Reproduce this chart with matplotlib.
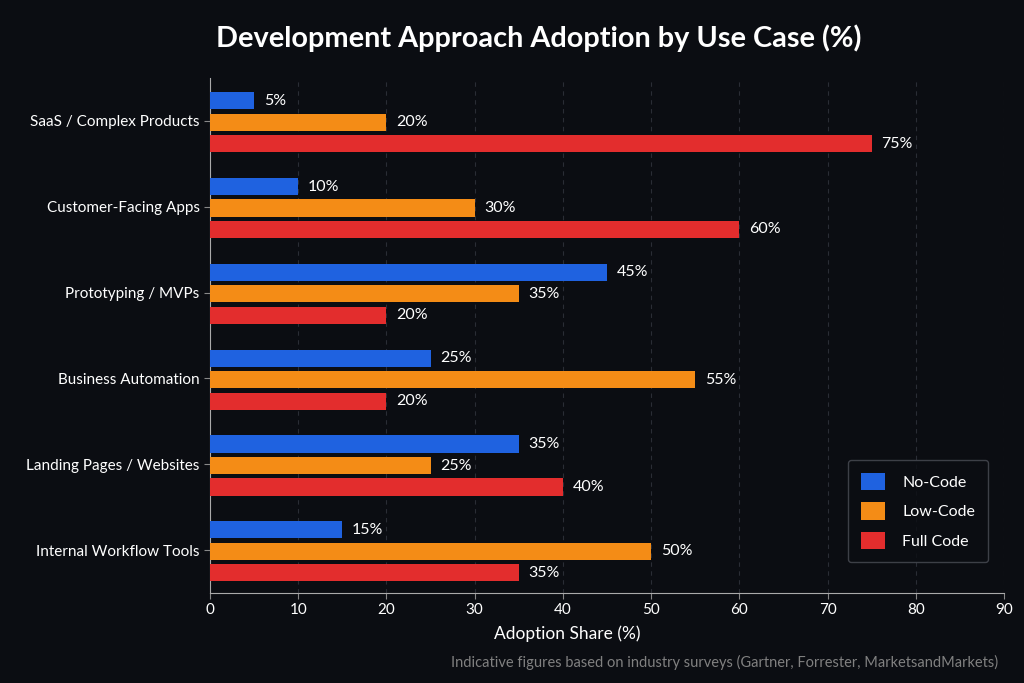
import matplotlib
matplotlib.use("Agg")
import matplotlib.pyplot as plt
import numpy as np

plt.rcParams['font.family'] = ['Lato', 'DejaVu Sans']

categories = ["SaaS / Complex Products", "Customer-Facing Apps", "Prototyping / MVPs",
              "Business Automation", "Landing Pages / Websites", "Internal Workflow Tools"]
no_code = [5, 10, 45, 25, 35, 15]
low_code = [20, 30, 35, 55, 25, 50]
full_code = [75, 60, 20, 20, 40, 35]
series_names = ["No-Code", "Low-Code", "Full Code"]
colors = ["#1f62e0", "#f48c16", "#e32d2d"]

bg = "#0b0d12"
fig = plt.figure(figsize=(10.24, 6.83), dpi=100, facecolor=bg)
ax = fig.add_axes([210/1024, 1-593/683, (1004-210)/1024, (593-78)/683])
ax.set_facecolor(bg)

y = np.arange(len(categories))
h = 0.2
off = 0.25
for i, (vals, name, c) in enumerate(zip([no_code, low_code, full_code], series_names, colors)):
    pos = y + (i - 1) * off + 0.015
    ax.barh(pos, vals, height=h, color=c, label=name, zorder=3)
    for p, v in zip(pos, vals):
        ax.text(v + 1.1, p, f"{v}%", va='center', ha='left', color='white', fontsize=11.5)

ax.set_ylim(len(categories) - 0.5, -0.5)
ax.set_xlim(0, 90)
ax.set_xticks(range(0, 91, 10))
ax.set_yticks(y)
ax.set_yticklabels(categories)
ax.tick_params(axis='both', labelsize=11, length=4, color='#888888', labelcolor='white')
for s in ['top', 'right']:
    ax.spines[s].set_visible(False)
for s in ['left', 'bottom']:
    ax.spines[s].set_color('#aaaaaa')
ax.xaxis.grid(True, linestyle=(0, (4, 4)), color='#2a2d35', linewidth=0.8, zorder=0)
ax.set_axisbelow(True)
ax.set_xlabel("Adoption Share (%)", color='white', fontsize=12.5)
ax.xaxis.set_label_coords((567-210)/794, -(625-593)/515)

fig.text(539/1024, 1-38/683, "Development Approach Adoption by Use Case (%)", ha='center', va='center',
         color='white', fontsize=20.8, fontweight='bold')
fig.text(998/1024, 1-662/683, "Indicative figures based on industry surveys (Gartner, Forrester, MarketsandMarkets)",
         ha='right', va='center', color='#808080', fontsize=10.5)

leg = ax.legend(loc='lower right', bbox_to_anchor=((988-210)/794, (593-562)/515), borderaxespad=0,
                frameon=True, fontsize=11.5,
                facecolor=bg, edgecolor='#4a4d55', labelcolor='white', handlelength=1.5,
                handleheight=1.3, borderpad=0.8, labelspacing=0.75, handletextpad=1.1)
leg.get_frame().set_linewidth(1)

fig.savefig("out.png", dpi=100, facecolor=bg)
